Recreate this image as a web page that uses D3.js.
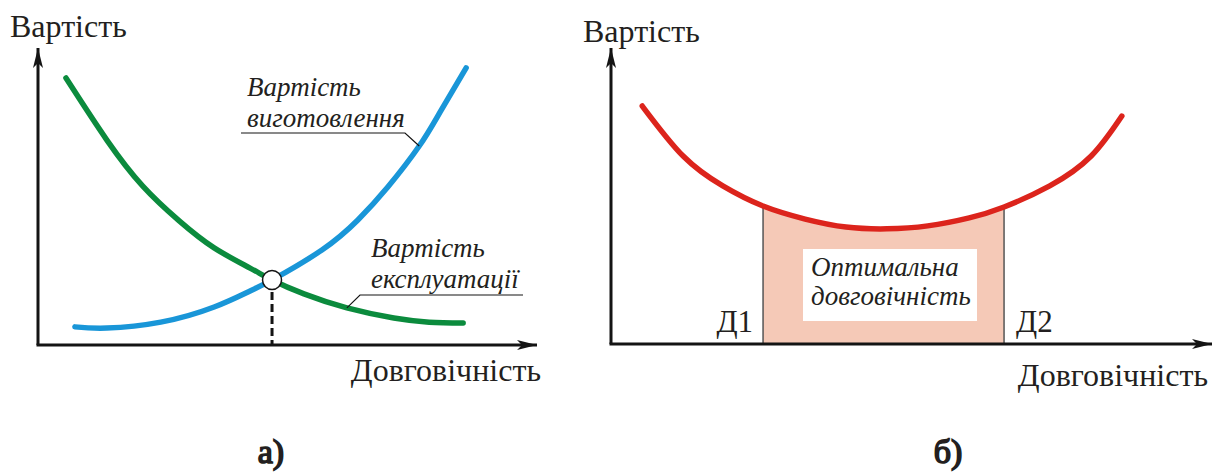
<!DOCTYPE html>
<html>
<head>
<meta charset="utf-8">
<script src="https://cdn.jsdelivr.net/npm/d3@7"></script>
<style>
  body { margin: 0; background: #fff; }
  #wrap { position: relative; width: 1221px; height: 472px; }
  #wrap svg { position: absolute; left: 0; top: 0; }
</style>
</head>
<body>
<div id="wrap">
  <svg id="plot" width="1221" height="472"></svg>
  <svg id="labels" width="1221" height="472"></svg>
</div>
<script>
// --- data (units 0..100 on both axes) ---
const makingX = [7.4, 13.8, 24.6, 35.3, 42.5, 46.9, 56.9, 64.1, 70.1, 76.4, 80.6, 85.8];
const makingY = [6.1, 5.7, 7.7, 12.8, 18.2, 21.9, 32.0, 42.1, 53.2, 67.0, 78.5, 93.3];
const usageX = [5.6, 13.8, 21.0, 28.3, 35.3, 42.5, 46.9, 53.3, 61.9, 71.3, 78.4, 85.2];
const usageY = [89.9, 69.0, 53.5, 41.8, 32.7, 25.9, 21.9, 17.2, 12.5, 9.1, 7.7, 7.4];
const crossing = [46.9, 21.9];

const totalX = [5.2, 12.0, 18.6, 25.3, 32.3, 39.1, 45.9, 52.7, 59.6, 65.4, 73.0, 79.9, 85.0];
const totalY = [80.4, 63.5, 53.4, 46.6, 42.2, 39.5, 38.9, 39.9, 42.6, 46.3, 53.4, 63.5, 77.0];
const bounds = ["Д1", "Д2"];
const boundX = [25.3, 65.4];

const yTitle = "Вартість";
const xTitle = "Довговічність";

const svg = d3.select("#plot");
const txt = d3.select("#labels"); // text layer on top
const colors = { making: "#1996d8", usage: "#0b8b3d", total: "#dc241c", fill: "#f5c9b7", axis: "#141414", text: "#231f20" };
const serif = '"Liberation Serif"';

const zip = (xs, ys) => xs.map((x, i) => [x, ys[i]]);

// arrowhead marker
svg.append("defs").append("marker")
  .attr("id", "arrow")
  .attr("viewBox", "0 0 20 10")
  .attr("refX", 20).attr("refY", 5)
  .attr("markerWidth", 20).attr("markerHeight", 10)
  .attr("markerUnits", "userSpaceOnUse")
  .attr("orient", "auto")
  .append("path")
  .attr("d", "M0,0 L20,5 L0,10 L5,5 Z")
  .attr("fill", colors.axis);

const label = (x, y, size, s) => txt.append("text")
  .attr("x", x).attr("y", y)
  .attr("font-size", size).attr("fill", colors.text)
  .style("font-family", serif)
  .text(s);

const drawAxes = (x, y, opts) => {
  svg.append("line")
    .attr("x1", x(0)).attr("y1", y(0)).attr("x2", x(0)).attr("y2", y(100))
    .attr("stroke", colors.axis).attr("stroke-width", 3)
    .attr("marker-end", "url(#arrow)");
  svg.append("line")
    .attr("x1", x(0) - 1.5).attr("y1", y(0)).attr("x2", x(100)).attr("y2", y(0))
    .attr("stroke", colors.axis).attr("stroke-width", 3)
    .attr("marker-end", "url(#arrow)");
  label(opts.yTitleX, opts.yTitleY, 32, yTitle);
  label(x(100) + opts.xTitleDx, opts.xTitleY, 32, xTitle)
    .attr("text-anchor", "end");
};

const line = (x, y) => d3.line()
  .x(d => x(d[0]))
  .y(d => y(d[1]))
  .curve(d3.curveNatural);

const italicLines = (lines, tx, ty, step) => lines.forEach((s, i) => {
  label(tx, ty + i * step, 27, s).attr("font-style", "italic");
});

// panel caption, heavy look done with a stroke
const caption = (x, s) => label(x, 463, 34, s)
  .attr("text-anchor", "middle")
  .attr("stroke", colors.text).attr("stroke-width", 1.6);

// ---------- panel a ----------
const xA = d3.scaleLinear().domain([0, 100]).range([38, 537]);
const yA = d3.scaleLinear().domain([0, 100]).range([345, 48]);

// dashed drop from the crossing point
svg.append("line")
  .attr("x1", xA(crossing[0])).attr("x2", xA(crossing[0]))
  .attr("y1", yA(crossing[1])).attr("y2", yA(0))
  .attr("stroke", colors.axis).attr("stroke-width", 3)
  .attr("stroke-dasharray", "8,4");

drawAxes(xA, yA, { yTitleX: 10, yTitleY: 37, xTitleDx: 4, xTitleY: 381 });

svg.append("path")
  .datum(zip(usageX, usageY))
  .attr("d", line(xA, yA))
  .attr("fill", "none").attr("stroke", colors.usage)
  .attr("stroke-width", 5.5).attr("stroke-linecap", "round");

svg.append("path")
  .datum(zip(makingX, makingY))
  .attr("d", line(xA, yA))
  .attr("fill", "none").attr("stroke", colors.making)
  .attr("stroke-width", 5.5).attr("stroke-linecap", "round");

svg.append("circle")
  .attr("cx", xA(crossing[0])).attr("cy", yA(crossing[1]))
  .attr("r", 9.5)
  .attr("fill", "#fff").attr("stroke", colors.axis).attr("stroke-width", 1.5);

const callout = (lines, tx, ty, pts) => {
  italicLines(lines, tx, ty, 31);
  svg.append("polyline")
    .attr("points", pts.map(p => p.join(",")).join(" "))
    .attr("fill", "none").attr("stroke", colors.axis).attr("stroke-width", 1.2);
};

// "виготовлення": underline, then leader down to the blue curve
callout(["Вартість", "виготовлення"], 247, 96,
  [[241, 133], [405, 133], [xA(makingX[9]), yA(makingY[9])]]);

// "експлуатації": underline, leader goes left to the green curve
callout(["Вартість", "експлуатації"], 371, 257,
  [[523, 295], [360, 295], [xA(usageX[8]), yA(usageY[8])]]);

caption(271, "а)");

// ---------- panel b ----------
const xB = d3.scaleLinear().domain([0, 100]).range([611, 1212]);
const yB = d3.scaleLinear().domain([0, 100]).range([344, 48]);

const totalData = zip(totalX, totalY);

svg.append("clipPath").attr("id", "optClip")
  .append("rect")
  .attr("x", xB(boundX[0])).attr("y", 0)
  .attr("width", xB(boundX[1]) - xB(boundX[0])).attr("height", 472);

svg.append("path")
  .datum(totalData)
  .attr("clip-path", "url(#optClip)")
  .attr("d", d3.area()
    .x(d => xB(d[0]))
    .y0(yB(0))
    .y1(d => yB(d[1]))
    .curve(d3.curveNatural))
  .attr("fill", colors.fill);

// vertical edges of the optimal range
svg.selectAll(".edge").data(boundX).join("line")
  .attr("class", "edge")
  .attr("x1", d => xB(d)).attr("x2", d => xB(d))
  .attr("y1", yB(0))
  .attr("y2", d => yB(totalY[totalX.indexOf(d)]))
  .attr("stroke", "#555").attr("stroke-width", 1.5);

// white label box
svg.append("rect")
  .attr("x", 803).attr("y", 249).attr("width", 174).attr("height", 72)
  .attr("fill", "#fff");
italicLines(["Оптимальна", "довговічність"], 811, 276, 29);

bounds.forEach((d, i) => {
  label(i === 0 ? xB(boundX[i]) - 10 : xB(boundX[i]) + 12, 332, 31, d)
    .attr("text-anchor", i === 0 ? "end" : "start");
});

drawAxes(xB, yB, { yTitleX: 583, yTitleY: 42, xTitleDx: -4, xTitleY: 386 });

svg.append("path")
  .datum(totalData)
  .attr("d", line(xB, yB))
  .attr("fill", "none").attr("stroke", colors.total)
  .attr("stroke-width", 5.5).attr("stroke-linecap", "round");

caption(948, "б)");
</script>
</body>
</html>
